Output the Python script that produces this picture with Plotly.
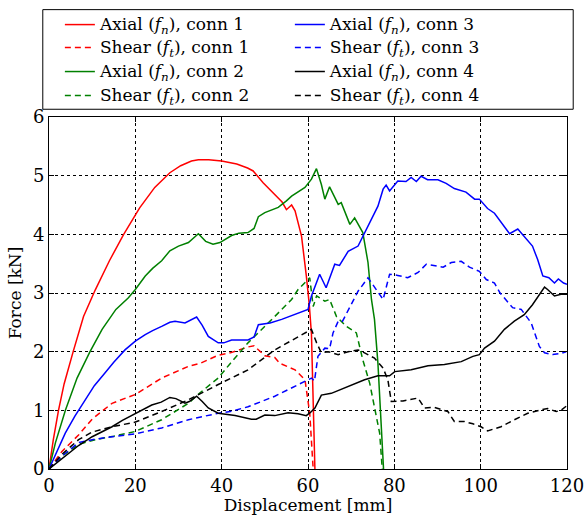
import plotly.graph_objects as go

# ---- data ----
ax1_x = [0, 1, 2.2, 3.5, 5.6, 8, 10.7, 14, 17.3, 21, 24.5, 28, 30.5, 33, 34.6, 37, 40, 43.5, 46, 47.3, 49.6, 52, 54, 55, 56.2, 57, 58.5, 59.6, 60.3, 60.8, 61.1, 61.3, 61.6]
ax1_y = [0, 0.5, 1.0, 1.45, 2.0, 2.6, 3.05, 3.55, 4.0, 4.45, 4.8, 5.05, 5.17, 5.25, 5.27, 5.27, 5.25, 5.2, 5.13, 5.08, 4.88, 4.7, 4.55, 4.42, 4.5, 4.4, 3.97, 3.3, 2.8, 2.3, 1.5, 0.8, 0.0]

sh1_x = [0, 3, 6.85, 10, 14.6, 20, 26.1, 32.3, 35, 39.2, 42, 46.1, 47.5, 50, 52.3, 53.5, 57, 59.3, 60.4, 61.2]
sh1_y = [0, 0.3, 0.58, 0.85, 1.12, 1.27, 1.55, 1.75, 1.8, 1.94, 1.98, 2.08, 2.1, 1.93, 1.9, 1.8, 1.69, 1.52, 0.95, 0.0]

ax2_x = [0, 1.5, 3.8, 6.5, 9.5, 12.3, 15.5, 18.4, 20, 22.3, 24, 26.1, 28, 30, 32.3, 33.5, 34.6, 36.3, 38, 39.6, 42.3, 44, 46.1, 47.5, 48.5, 50, 53.1, 55, 56.2, 59.3, 60.8, 61.96, 63.1, 63.9, 65, 67, 67.7, 69.7, 70.8, 72.7, 73.9, 74.7, 75.4, 76.2, 77.0, 77.5]
ax2_y = [0, 0.45, 1.0, 1.55, 2.0, 2.38, 2.72, 2.92, 3.06, 3.29, 3.42, 3.55, 3.72, 3.8, 3.86, 3.93, 4.01, 3.88, 3.83, 3.86, 3.98, 4.02, 4.03, 4.1, 4.3, 4.37, 4.46, 4.57, 4.65, 4.8, 4.94, 5.12, 4.85, 4.6, 4.81, 4.51, 4.54, 4.17, 4.28, 4.03, 3.52, 2.89, 2.55, 1.8, 0.8, 0.0]

sh2_x = [0, 3, 6.85, 10.7, 15, 20, 26.1, 32.3, 35, 39.2, 42, 46.1, 52.3, 56.2, 57.7, 60.4, 61.2, 62, 63.9, 65, 66.6, 68.9, 71.2, 72.7, 74.3, 75.4, 76.6, 77.2]
sh2_y = [0, 0.22, 0.42, 0.5, 0.56, 0.64, 0.84, 1.12, 1.3, 1.55, 1.8, 2.15, 2.6, 2.89, 3.06, 3.26, 2.77, 2.95, 2.86, 2.89, 2.6, 2.43, 2.32, 1.86, 1.46, 1.06, 0.61, 0.0]

ax3_x = [0, 1.5, 3.77, 6, 8.4, 10.5, 13, 15, 17.6, 20, 22.3, 24, 26.1, 28, 29.2, 31.5, 34.2, 35.5, 36.9, 39.2, 40.5, 42.3, 46.1, 47.5, 48.5, 51.2, 53.9, 58.1, 60, 60.8, 62, 62.7, 64.2, 66.2, 67.3, 69.3, 71.6, 73.9, 76.2, 77.4, 78.1, 78.9, 80.8, 82.7, 83.9, 85.1, 86.2, 87.7, 90.1, 92, 93.9, 96.6, 98.6, 99.7, 101.6, 103.2, 105.1, 106.7, 108.6, 110.1, 112, 113.2, 114.4, 115.8, 117.1, 118, 119.2, 120]
ax3_y = [0, 0.25, 0.61, 0.9, 1.18, 1.42, 1.64, 1.82, 2.03, 2.18, 2.29, 2.36, 2.43, 2.5, 2.52, 2.49, 2.59, 2.45, 2.26, 2.15, 2.15, 2.2, 2.2, 2.25, 2.46, 2.49, 2.55, 2.66, 2.72, 2.95, 3.2, 3.32, 3.09, 3.49, 3.47, 3.71, 3.8, 4.14, 4.48, 4.77, 4.84, 4.74, 4.91, 4.9, 4.97, 4.9, 4.99, 4.93, 4.93, 4.87, 4.78, 4.72, 4.6, 4.6, 4.44, 4.36, 4.17, 4.01, 4.09, 3.97, 3.8, 3.57, 3.29, 3.26, 3.17, 3.24, 3.17, 3.15]

sh3_x = [0, 3, 6.85, 10, 14.6, 20, 26.1, 32.3, 36, 39.2, 42, 46.1, 52.3, 57, 60.8, 61.5, 62.3, 63.9, 65, 65.8, 67, 68, 70.1, 71.6, 73.9, 75.8, 77.4, 78.9, 80.8, 83.1, 85.5, 87.4, 89.7, 91.3, 93.2, 95.5, 97.4, 99.7, 101.3, 103.2, 104.5, 107.4, 109.4, 111.7, 113.6, 114.8, 116.7, 118.6, 119.8]
sh3_y = [0, 0.22, 0.45, 0.5, 0.55, 0.6, 0.7, 0.84, 0.9, 0.95, 0.98, 1.06, 1.24, 1.41, 1.55, 1.5, 1.92, 2.06, 2.05, 2.32, 2.52, 2.52, 2.83, 3.03, 3.26, 3.06, 2.89, 3.32, 3.3, 3.26, 3.35, 3.49, 3.46, 3.44, 3.52, 3.54, 3.44, 3.37, 3.23, 3.17, 3.0, 2.75, 2.72, 2.49, 2.09, 1.98, 1.95, 1.97, 2.0]

ax4_x = [0, 3, 6.85, 10, 14.6, 17, 20, 23.8, 26, 28, 29.4, 31.5, 32.5, 34.2, 35.5, 36.9, 39.2, 43.1, 46.9, 48, 50, 52.3, 55.4, 57.7, 59.6, 60.5, 61.6, 63.1, 65.4, 69.3, 73.1, 76.2, 78.9, 80.1, 83.9, 87.8, 91.6, 95.5, 98.2, 99.7, 100.9, 103.2, 105.5, 107.8, 110.1, 112, 114, 114.8, 115.5, 117.1, 118.6, 120]
ax4_y = [0, 0.18, 0.4, 0.55, 0.72, 0.83, 0.95, 1.09, 1.14, 1.22, 1.2, 1.12, 1.15, 1.24, 1.15, 1.04, 0.95, 0.91, 0.85, 0.85, 0.92, 0.91, 0.96, 0.94, 0.91, 0.96, 1.04, 1.26, 1.29, 1.41, 1.52, 1.59, 1.59, 1.66, 1.69, 1.76, 1.78, 1.83, 1.92, 1.95, 2.06, 2.18, 2.38, 2.52, 2.63, 2.8, 3.0, 3.1, 3.06, 2.95, 2.98, 2.98]

sh4_x = [0, 3, 6.85, 10, 14.6, 20, 26.1, 32.3, 39.2, 46.1, 52.3, 57, 60.8, 62, 63.1, 64.7, 67, 69.3, 71.6, 73.1, 75.4, 77.4, 78.5, 79.3, 82, 85.5, 87, 89.3, 92.4, 93.9, 96.2, 98.2, 100.1, 101.6, 104.7, 107.8, 110.9, 114, 115.5, 117.5, 118.6, 119.8]
sh4_y = [0, 0.25, 0.5, 0.63, 0.72, 0.8, 0.98, 1.18, 1.44, 1.69, 2.03, 2.23, 2.38, 2.15, 1.98, 2.0, 1.95, 2.0, 2.03, 1.98, 1.89, 1.72, 1.52, 1.15, 1.16, 1.21, 1.04, 1.05, 0.98, 0.81, 0.81, 0.77, 0.72, 0.65, 0.72, 0.84, 0.95, 1.01, 1.03, 0.98, 1.0, 1.07]

x_ticks = [0, 20, 40, 60, 80, 100, 120]
y_ticks = [0, 1, 2, 3, 4, 5, 6]

FONT = "DejaVu Serif"
DASH = "6px,4px"

series = [
    (ax1_x, ax1_y, "red", "solid", "Axial (<i>f</i><sub><i>n</i></sub>), conn 1"),
    (sh1_x, sh1_y, "red", DASH, "Shear (<i>f</i><sub><i>t</i></sub>), conn 1"),
    (ax2_x, ax2_y, "green", "solid", "Axial (<i>f</i><sub><i>n</i></sub>), conn 2"),
    (sh2_x, sh2_y, "green", DASH, "Shear (<i>f</i><sub><i>t</i></sub>), conn 2"),
    (ax3_x, ax3_y, "blue", "solid", "Axial (<i>f</i><sub><i>n</i></sub>), conn 3"),
    (sh3_x, sh3_y, "blue", DASH, "Shear (<i>f</i><sub><i>t</i></sub>), conn 3"),
    (ax4_x, ax4_y, "black", "solid", "Axial (<i>f</i><sub><i>n</i></sub>), conn 4"),
    (sh4_x, sh4_y, "black", DASH, "Shear (<i>f</i><sub><i>t</i></sub>), conn 4"),
]

# legend layout: two columns of four rows
col_x = [0.021, 0.465]
row_y = [1.2614, 1.196, 1.128, 1.06]

fig = go.Figure()
legends = {}
for i, (xs, ys, col, dash, name) in enumerate(series):
    key = "legend" if i == 0 else f"legend{i + 1}"
    fig.add_trace(go.Scatter(x=xs, y=ys, mode="lines", legend=key, showlegend=True,
                             name=f'<span style="font-size:17px">{name}</span>',
                             line=dict(color=col, width=1.5, dash=dash)))
    legends[key] = dict(x=col_x[i // 4], y=row_y[i % 4], xanchor="left", yanchor="middle",
                        font=dict(family=FONT, size=14, color="black"), visible=True,
                        bgcolor="rgba(0,0,0,0)", borderwidth=0)

axis_common = dict(showline=True, linecolor="black", linewidth=1, mirror="all",
                   ticks="inside", ticklen=5, tickcolor="black", automargin=False,
                   ticklabeloverflow="allow",
                   showgrid=True, gridcolor="black", griddash="dot", gridwidth=1,
                   zeroline=False, tickfont=dict(family=FONT, size=18, color="black"))

fig.update_xaxes(range=[0, 120], tickvals=x_ticks, title=dict(text="Displacement [mm]", font=dict(family=FONT, size=17, color="black"), standoff=4), **axis_common)
fig.update_yaxes(range=[0, 6], tickvals=y_ticks, title=dict(text="Force [kN]", font=dict(family=FONT, size=17, color="black"), standoff=6), **axis_common)

fig.update_layout(
    width=584, height=515, showlegend=True,
    margin=dict(l=49, r=17, t=117, b=46, autoexpand=False),
    paper_bgcolor="white", plot_bgcolor="white",
    font=dict(family=FONT, color="black"),
    shapes=[dict(type="rect", xref="paper", yref="paper", x0=-0.012, x1=1.012, y0=1.022, y1=1.305,
                 line=dict(color="black", width=1), fillcolor="white", layer="below")],
    **legends,
)

fig.write_html("out.html")
